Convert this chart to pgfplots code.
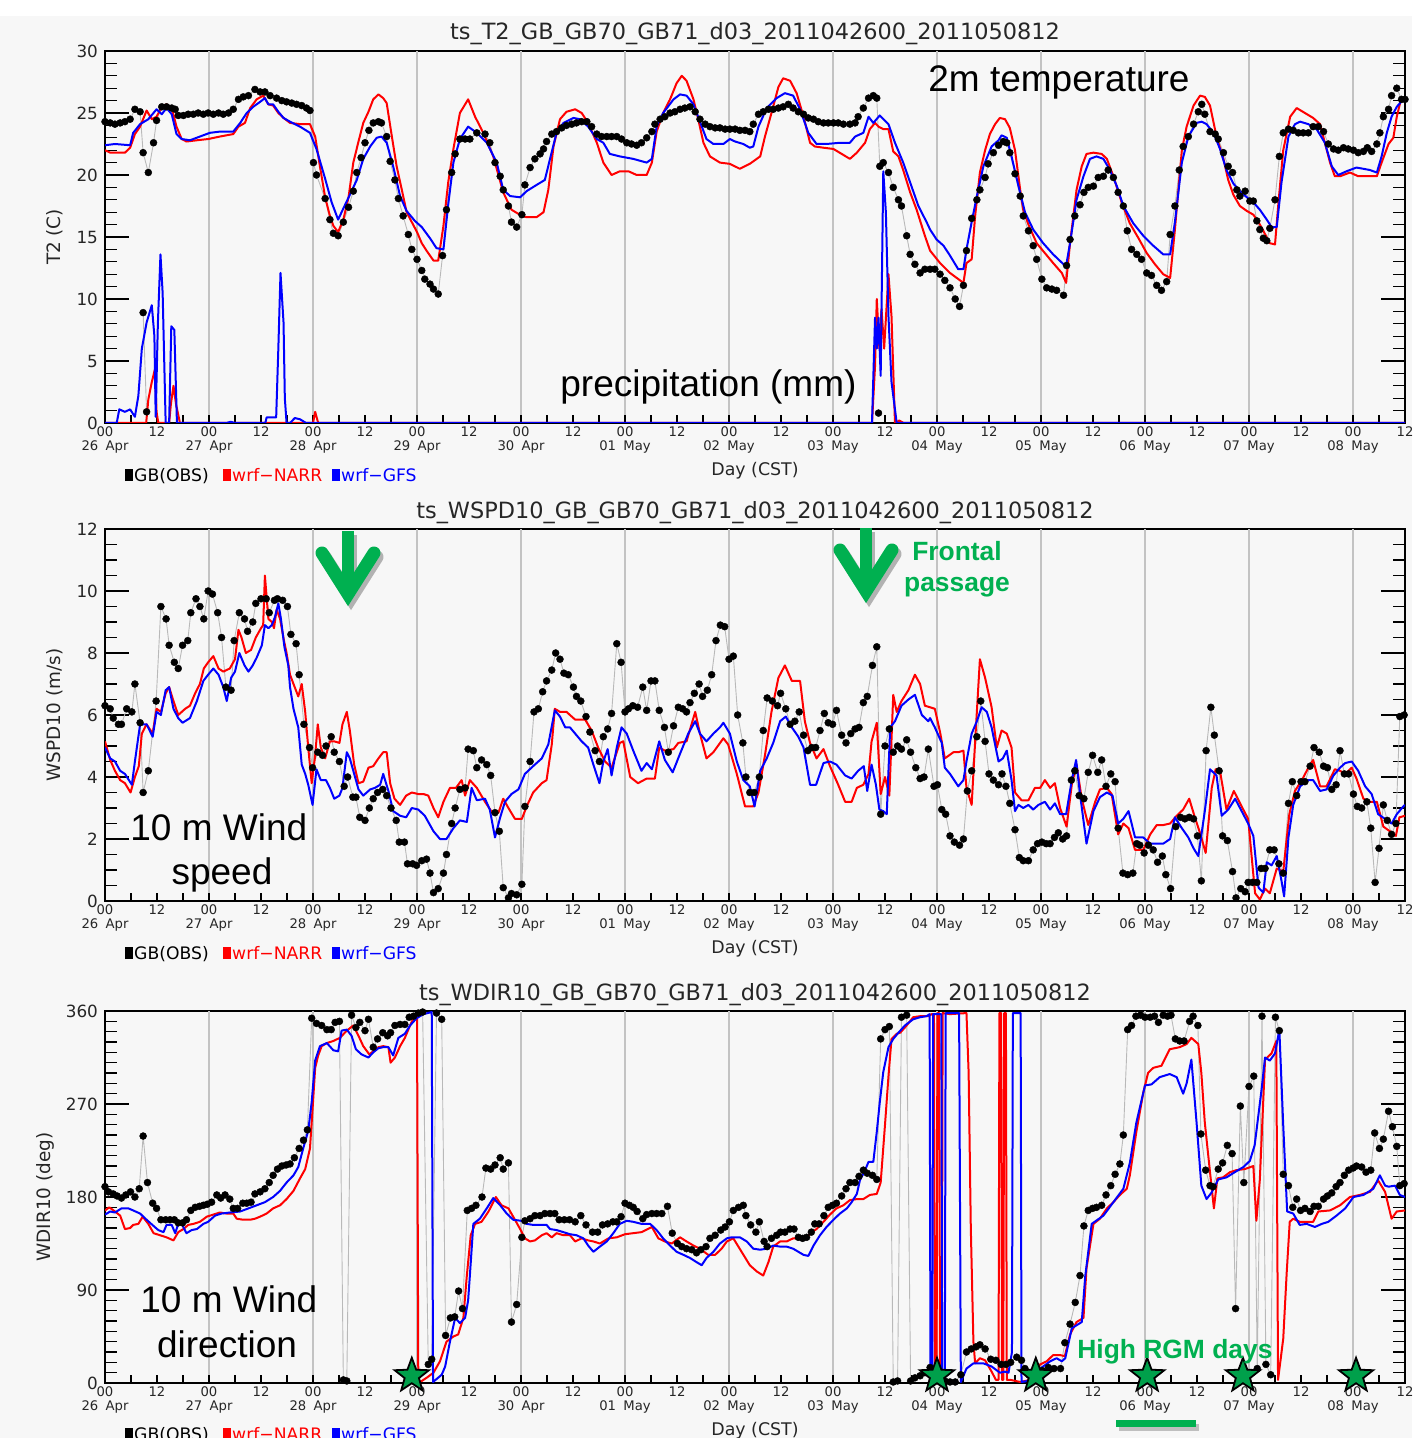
\documentclass[border=0pt]{standalone}
\usepackage{pgfplots}
\pgfplotsset{compat=1.18}
\usepackage{fontspec}
\setmainfont{DejaVu Sans}
\newfontfamily\arial{Liberation Sans}
\usetikzlibrary{shapes.geometric}
\definecolor{bg}{RGB}{247,247,247}
\definecolor{agreen}{RGB}{0,176,80}
\definecolor{sgreen}{RGB}{0,160,75}
\definecolor{pred}{RGB}{255,0,0}
\definecolor{pblue}{RGB}{0,0,255}
\definecolor{obsline}{RGB}{185,185,185}
\definecolor{gridc}{RGB}{195,195,195}
\newcommand\dd[2]{00\\#1\hspace{0.55em}#2}
\newcommand\bigf{\arial\fontsize{18.5}{20}\selectfont}
\newcommand\grf{\arial\bfseries\fontsize{13.2}{14}\selectfont}
\newcommand\legf{\fontsize{8.6}{9}\selectfont}
\newcommand\titf{\fontsize{11.2}{12}\selectfont}
\pgfdeclareplotmark{rgmstar}{\node[star,star points=5,star point ratio=2.4,minimum size=18pt,inner sep=0pt,fill=sgreen,draw=black,line width=0.9pt]{};}
\pgfplotsset{
  panel/.style={
    width=650pt, height=186pt, scale only axis, anchor=north west,
    xmin=0, xmax=300,
    xtick={0,12,...,300}, minor x tick num=1,
    xticklabels={{\dd{26}{Apr}},12,{\dd{27}{Apr}},12,{\dd{28}{Apr}},12,{\dd{29}{Apr}},12,{\dd{30}{Apr}},12,{\dd{01}{May}},12,{\dd{02}{May}},12,{\dd{03}{May}},12,{\dd{04}{May}},12,{\dd{05}{May}},12,{\dd{06}{May}},12,{\dd{07}{May}},12,{\dd{08}{May}},12},
    xtick pos=left, ytick pos=both, yticklabel pos=left,
    tick align=inside,
    major tick length=12pt, minor tick length=6pt,
    every major x tick/.append style={/pgfplots/major tick length=4pt},
    every minor x tick/.append style={/pgfplots/minor tick length=4pt},
    extra x ticks={24,48,...,288}, extra x tick labels={},
    extra x tick style={grid=major, major grid style={gridc, line width=0.6pt}, major tick length=0pt},
    axis line style={black, line width=0.9pt},
    tick style={black, line width=0.6pt},
    /pgf/number format/assume math mode=true,
    xticklabel style={font=\fontsize{6.6}{7.2}\selectfont, align=center, text=black!85, inner sep=1.5pt},
    yticklabel style={font=\fontsize{8.4}{9}\selectfont, text=black!85},
    xlabel={Day (CST)},
    xlabel style={at={(axis description cs:0.5,-0.1398)}, anchor=base, font=\fontsize{8.7}{9}\selectfont, text=black!85},
    ylabel style={at={(axis description cs:-0.0385,0.5)}, anchor=center, font=\fontsize{9.2}{10}\selectfont, text=black!85},
    clip=true,
  },
  obs/.style={color=obsline, line width=0.45pt, mark=*, mark size=1.75pt, mark options={draw=black, fill=black, line width=0.2pt}},
  nr/.style={color=pred, line width=1pt, no markers, line join=round},
  gf/.style={color=pblue, line width=1pt, no markers, line join=round},
}
\begin{document}
\begin{tikzpicture}
\path[use as bounding box] (0,0) rectangle (706pt,-719pt);
\fill[bg] (0,0) rectangle (706pt,-719pt);
\fill[white] (0,0) rectangle (706pt,-8pt);

% ---------------- Panel 1: T2 + precipitation
\begin{axis}[panel, at={(52.5pt,-25.5pt)}, ymin=0, ymax=30, ytick={0,5,...,30}, minor y tick num=4, ylabel={T2 (C)}]
\addplot[obs] coordinates {(0,24.3)(1.2,24.2)(2.3,24.1)(3.5,24.2)(4.6,24.3)(5.8,24.5)(6.9,25.3)(8.1,25.1)(8.8,21.8)(10,20.2)(11.2,22.6)(11.9,24.4)(13.1,25.5)(14.2,25.5)(15.4,25.4)(16.2,25.3)(16.9,24.8)(18.1,24.8)(19.2,24.9)(20.4,24.9)(21.5,25)(22.7,24.9)(23.8,25)(25,24.9)(26.2,25)(27.3,24.9)(28.5,25)(29.6,25.3)(30.8,26.1)(31.9,26.3)(33.1,26.4)(34.6,26.9)(35.8,26.7)(36.9,26.7)(38.1,26.4)(39.6,26.2)(40.8,26)(41.9,25.9)(43.1,25.8)(44.2,25.7)(45.4,25.6)(46.5,25.4)(47.3,25.2)(48.1,21)(48.8,20)(50.8,18.1)(51.9,16.4)(52.7,15.3)(53.8,15.1)(55,16.2)(56.2,17.4)(57.3,18.7)(58.1,20.2)(59.1,21.4)(60,22.6)(60.9,23.6)(61.9,24.2)(63.1,24.3)(63.8,24.2)(65,23.1)(65.8,21.1)(66.9,19.6)(67.7,18.1)(68.8,16.7)(70,15.2)(70.8,14)(72,13.2)(73.1,12.3)(73.8,11.6)(75,11.2)(75.8,10.8)(76.9,10.4)(77.9,13.5)(78.8,17.2)(80,20.2)(80.8,21.7)(81.9,22.9)(83.1,22.9)(84.2,22.9)(85.8,23.4)(87.7,23.3)(88.8,22.6)(90,21)(91.2,19.9)(91.9,18.8)(93.1,17.5)(93.8,16.2)(95,15.8)(96.2,16.8)(96.9,19.2)(98.1,20.6)(99.2,21.3)(100.4,21.7)(101.2,22.1)(101.9,22.7)(103.1,23.3)(104.2,23.5)(105.4,23.8)(106.5,24)(107.7,24.1)(108.8,24.2)(110,24.3)(111.2,24.3)(112.3,23.9)(113.5,23.3)(114.6,23.1)(115.8,23.1)(116.9,23.1)(118.1,23.1)(119.2,22.9)(120.4,22.6)(121.5,22.5)(122.7,22.4)(123.8,22.6)(125,23)(126.2,23.5)(126.9,24.1)(128.1,24.5)(129.2,24.7)(130.4,25)(131.5,25.1)(132.7,25.3)(133.8,25.4)(135,25.5)(136.2,25.1)(137.3,24.5)(138.5,24.1)(139.6,23.9)(140.8,23.8)(141.9,23.8)(143.1,23.7)(144.2,23.7)(145.4,23.7)(146.5,23.6)(147.7,23.6)(148.8,23.5)(149.6,24.1)(150.8,24.9)(151.9,25.1)(153.1,25.3)(154.2,25.3)(155.4,25.4)(156.5,25.5)(157.7,25.7)(158.8,25.4)(160,25.1)(161.2,24.9)(162.3,24.6)(163.5,24.5)(164.6,24.3)(165.8,24.2)(166.9,24.2)(168.1,24.2)(169.2,24.2)(170.4,24.1)(171.9,24.1)(173.1,24.2)(173.8,24.7)(175,25.4)(176.2,26.2)(177.3,26.4)(178.1,26.2)(178.8,20.7)(179.6,21)(180.8,20.2)(181.9,19)(183.1,18)(183.8,17.5)(185,15.1)(185.8,13.6)(186.9,12.8)(188.1,12.1)(189.2,12.4)(190.4,12.4)(191.5,12.4)(192.7,12)(193.8,11.5)(195,10.9)(196.2,10)(197.2,9.4)(198.1,11.1)(198.8,13.9)(200,16.5)(201.2,18)(201.9,18.8)(203.1,19.8)(203.8,20.9)(205,21.8)(206.2,22.4)(207.3,22.7)(208.1,22.6)(208.8,21.8)(210,20.1)(211.2,18.3)(211.9,16.7)(213.1,15.5)(214.2,14.3)(215,13.2)(216.2,11.6)(217.3,10.9)(218.5,10.8)(219.6,10.7)(221.2,10.3)(221.9,12.7)(222.7,14.8)(223.8,16.7)(225,17.6)(225.9,18.6)(226.9,19)(228.1,19.1)(229.2,19.8)(230.4,19.9)(231.5,20.4)(232.7,19.8)(233.8,18.6)(235,17.5)(235.9,15.5)(236.9,14)(238.1,13.6)(239.2,13.2)(240.4,12.1)(241.5,11.9)(242.7,11.1)(243.8,10.7)(245,11.4)(245.8,15.2)(246.9,17.5)(247.9,20.4)(248.8,22.3)(250,23.1)(251.2,24.1)(252.3,25.1)(253.1,25.7)(253.8,24.9)(255,23.5)(256.2,23.3)(256.9,22.9)(258.1,21.8)(259.2,20.7)(260.2,20.2)(261.2,18.8)(261.9,18.3)(263.1,18.7)(264.2,17.9)(265,17.9)(265.8,16.3)(266.5,15.6)(267.3,14.9)(268.1,14.7)(268.8,15.7)(270,18)(271,21.5)(271.9,23.4)(273.1,23.7)(274.2,23.6)(275.4,23.4)(276.5,23.4)(277.7,23.4)(278.8,23.9)(280,23.9)(281.2,23.5)(282.3,22.5)(283.5,22.1)(284.6,22)(285.8,22.2)(286.9,22.1)(288.1,22)(289.2,21.8)(290.4,21.9)(291.3,22.2)(292.3,21.9)(293.5,22.5)(294.2,23.4)(295,24.7)(296.2,25.3)(296.9,26.4)(298.1,27)(299.2,26.1)(300,26.1)};
\addplot[nr] coordinates {(0,22)(1.2,21.8)(4.6,21.8)(5.8,22.2)(6.9,23.3)(8.1,23.9)(9.6,25.2)(10.8,24.5)(11.9,24.7)(13.1,25.5)(14.2,25.7)(15.4,25.4)(16.5,23.9)(17.7,22.9)(18.8,22.7)(21.2,22.8)(23.8,22.9)(26.5,23.1)(29.6,23.3)(30.8,23.9)(32.3,24.2)(33.5,25.4)(35,26.1)(36.5,26.4)(37.7,25.7)(38.8,25.6)(40,25)(41.2,24.6)(42.7,24.2)(45,24.1)(47.3,24.1)(48.5,23.1)(49.6,20.7)(50.8,18.2)(51.9,16.7)(52.7,15.9)(53.8,15.4)(55,16.4)(56.2,18.2)(57.3,21)(58.5,22.7)(59.6,24.2)(60.8,25.1)(61.9,26.1)(63.1,26.5)(64.2,26.2)(65,25.8)(66.2,23.1)(67.3,20.7)(68.5,18.8)(69.6,17)(70.8,16.2)(72,15.4)(73.1,14.5)(74.2,13.9)(75.8,13.1)(76.9,13.1)(78.1,15.9)(79.2,19.4)(80.4,22.1)(81.9,25)(83.8,26.1)(85.4,24.7)(87.3,23.4)(89.6,21.5)(91.9,18.6)(93.8,17.2)(96.2,16.7)(97.3,16.6)(99.6,16.6)(101.2,17)(102.3,18.8)(103.5,22.3)(105,24.5)(106.5,25.1)(108.5,25.3)(110,25)(111.5,24.2)(113.5,22.6)(115,21)(116.9,20)(118.8,20.3)(120.8,20.3)(122.7,20)(125,20)(126.2,21)(127.3,23.5)(128.8,25)(130.4,26.1)(131.9,27.4)(133.1,28)(134.2,27.6)(135.8,26.1)(136.9,24.5)(138.1,22.6)(139.6,21.5)(141.9,21)(144.2,20.9)(146.5,20.5)(148.8,20.9)(151.2,21.5)(152.3,23.1)(153.8,25)(155.4,27.1)(156.5,27.8)(158.1,27.6)(159.6,26.6)(161.2,24.7)(162.7,22.6)(163.8,22.3)(165.8,22.2)(168.1,22.1)(170,21.7)(171.9,21.3)(173.5,21.8)(175.4,22.6)(176.5,23.7)(177.7,24.2)(178.5,23.9)(179.6,23.7)(180.8,23.7)(181.9,21.9)(183.1,21.5)(184.2,20.4)(185.8,18.6)(187.3,17.2)(189.2,15.1)(190.4,13.9)(192.7,12.9)(195,12.1)(198.1,11.3)(198.8,12.9)(200,13.2)(200.8,16.7)(201.9,20.2)(203.1,22)(204.2,23.3)(205.4,24.1)(206.5,24.6)(207.7,24.5)(208.8,23.8)(210,22)(211.2,18.8)(211.9,17.2)(213.1,16)(215,14.5)(216.9,13.7)(218.8,12.9)(220.8,12.1)(221.8,11.3)(222.7,14.5)(224.2,18.8)(225.4,20.7)(226.5,21.7)(228.1,21.8)(230,21.7)(231.2,21.3)(232.7,19.9)(234.6,17.8)(236.5,16.1)(238.5,14.9)(240.4,13.7)(242.3,12.8)(244.2,12)(245.8,11.7)(246.9,15.6)(248.5,22)(249.6,23.9)(251.2,25.6)(252.7,26.4)(253.8,26.3)(255,25.6)(256.5,23.1)(258.1,21.3)(259.2,19.6)(260.4,18.4)(261.9,17.5)(263.5,17.1)(265,16.8)(266.2,16.2)(267.3,15.5)(268.8,14.5)(270,14.4)(270.8,17.8)(271.9,22)(273.5,24.7)(275,25.4)(276.9,25)(278.8,24.6)(280.4,24.1)(281.5,22.6)(282.7,21)(283.8,19.9)(285,19.9)(287.3,20.2)(289.2,19.9)(291.2,19.9)(293.5,19.9)(294.6,21)(296.2,22.5)(297.3,23)(298.1,24.7)(299,26)(300,26.1)};
\addplot[gf] coordinates {(0,22.4)(2.3,22.5)(5.8,22.4)(6.5,23.4)(8.1,24.1)(10,24.5)(11.9,25.3)(13.1,24.9)(14.2,25.4)(15.4,24.9)(16.5,23.3)(17.7,22.9)(19.6,22.8)(21.9,23.1)(24.2,23.4)(26.5,23.5)(29.6,23.5)(31.2,24.2)(32.7,25)(34.2,25.5)(35.8,25.9)(36.9,26.2)(37.7,25.7)(38.8,25.7)(40,25.1)(41.2,24.6)(42.7,24.3)(45,23.9)(47.3,23.4)(48.8,22.1)(50.8,19.7)(52.3,17.8)(53.8,16.4)(55,17.3)(56.5,18.4)(58.1,19.6)(59.6,21.3)(61.2,22.3)(62.7,23)(63.8,23.1)(65,22.6)(66.5,20.7)(68.1,18.3)(69.6,17.1)(71.5,16.3)(73.1,15.8)(75,14.9)(76.5,14.1)(78.1,14)(79.2,17.6)(80.4,21)(81.9,22.9)(83.8,23.9)(85.8,23.4)(88.1,22.6)(90.4,21)(91.9,18.8)(93.5,18.3)(95.8,18.2)(97.3,18.7)(99.6,19.2)(101.5,19.6)(102.7,21.3)(104.2,23.4)(105.8,24.2)(108.1,24.6)(109.6,24.5)(111.5,23.9)(113.5,22.9)(115,22.6)(116.5,21.7)(118.8,21.5)(121.9,21.3)(125,21)(126.2,21.3)(127.3,23.9)(128.8,25)(131.2,26.1)(132.7,26.5)(134.2,26.4)(135.8,25.7)(137.3,24.3)(138.8,22.9)(140.4,22.5)(142.7,22.5)(144.2,22.9)(145.4,22.7)(147.3,22.5)(148.8,22.2)(149.6,22.3)(150.8,23.9)(152.7,25.4)(155,26.2)(156.9,26.6)(158.8,26.4)(160.4,25.3)(162.3,23.4)(164.2,22.5)(166.5,22.5)(169.6,22.6)(171.9,22.6)(173.1,23.1)(175,23.4)(176.2,24.7)(177.3,24.2)(178.8,24.8)(180.8,24.1)(182.3,22.6)(184.2,21)(185.8,19.4)(187.7,17.5)(189.6,16.2)(190.4,15.6)(191.9,14.8)(193.5,14.3)(195,13.5)(196.9,12.4)(198.1,12.4)(198.8,14)(200,16.2)(201.2,18.3)(202.7,20.7)(204.6,22.3)(206.2,22.8)(206.9,23.2)(208.1,23)(209.2,21.5)(210.8,19.1)(212.3,17)(214.2,15.6)(216.5,14.5)(218.8,13.6)(221.2,12.8)(221.9,12.9)(222.7,14.5)(224.2,18)(225.8,19.9)(227.3,21.3)(228.8,21.5)(230.4,21.3)(231.9,20.4)(233.5,19.1)(235,17.5)(237.3,16.1)(239.6,15.1)(241.9,14.3)(244.2,13.6)(245.8,13.6)(246.9,16.2)(248.5,21)(250,23.1)(251.9,24.2)(253.1,24.3)(254.2,24.1)(255.8,23.4)(257.3,22.1)(258.8,20.4)(260.4,19.3)(261.9,18.7)(263.5,18.2)(265,17.8)(266.5,17.2)(268.1,16.4)(269.2,15.8)(270.4,15.8)(271.5,19.4)(273.1,23.1)(274.6,24.1)(275.8,24.3)(277.7,24.1)(279.6,23.7)(281.5,22.6)(283.1,20.7)(284.6,20)(286.5,20.3)(288.8,20.6)(290.4,20.5)(291.9,20.4)(293.5,20.2)(294.6,21.5)(295.8,23.4)(296.9,24.7)(298.1,25.5)(299.6,26.1)(300,26.1)};
\addplot[obs] coordinates {(8.8,8.9)(9.6,0.9)};
\addplot[obs] coordinates {(178.5,0.8)};
\addplot[nr] coordinates {(0,0)(9.5,0)(10,1.9)(10.8,3.3)(11.5,4.3)(11.9,0.9)(12.3,0)(14.8,0)(15.2,1.5)(15.8,3)(16.4,1.5)(17.3,0)(48,0)(48.5,0.9)(49.2,0)(177,0)(177.7,4.6)(178.1,10)(178.7,6)(179.2,9.2)(179.8,6)(180.8,12)(181.5,8.6)(182.3,0)(183.3,0.2)(184.3,0)(300,0)};
\addplot[gf] coordinates {(0,0)(2.7,0)(3.3,1.1)(4.6,0.9)(5.8,1.1)(6.9,0.5)(7.7,2.2)(8.5,6)(9.6,8.1)(10.8,9.5)(11.4,7)(11.7,0.5)(12.2,8)(12.8,13.6)(13.3,10.5)(14,0)(14.8,0)(15.3,7.8)(16,7.5)(16.6,0)(28,0)(29,0.1)(30,0)(37,0)(37.3,0.45)(39.5,0.45)(40,6)(40.5,12.1)(41.2,8.1)(41.5,2)(41.9,0)(42.7,0)(43.8,0.4)(45,0.3)(46.4,0)(177,0)(177.7,8.5)(178.1,6)(178.5,8.5)(179,3.8)(179.6,20.3)(180.2,17)(180.8,8.6)(181.5,3.3)(182.7,0)(300,0)};
\end{axis}

% ---------------- Panel 2: wind speed
\begin{axis}[panel, at={(52.5pt,-264.5pt)}, ymin=0, ymax=12, ytick={0,2,...,12}, minor y tick num=3, ylabel={WSPD10 (m/s)}]
\addplot[obs] coordinates {(0,6.3)(1.2,6.2)(1.9,5.9)(3.1,5.7)(3.8,5.7)(5,6.2)(6.2,6.1)(6.9,7)(8.1,5.75)(8.8,3.5)(10,4.2)(11.8,6.45)(12.9,9.5)(14.1,9.1)(14.8,8.25)(16,7.7)(16.9,7.5)(17.9,8.25)(19.1,8.4)(19.8,9.3)(21,9.75)(21.9,9.5)(22.8,9.1)(23.8,10)(24.8,9.9)(26,9.3)(26.9,8.5)(27.9,6.9)(29.1,6.8)(29.8,8.4)(31,9.3)(32.2,9.1)(32.9,8.7)(34.1,9)(34.8,9.6)(36,9.75)(37.2,9.75)(37.9,9.3)(39.1,9.7)(39.8,9.75)(41,9.7)(42.1,9.5)(42.9,8.6)(44.1,8.3)(44.8,7.3)(45.9,5.7)(47.2,4.95)(47.9,4.3)(49.1,4.8)(50.2,4.7)(51,5)(52.2,5.3)(52.9,4.8)(54.1,4.5)(55.2,3.7)(56,4)(57.2,3.35)(57.9,3.35)(58.8,2.7)(60,2.6)(61,3)(61.9,3.3)(62.9,3.5)(64.1,3.6)(65,3.4)(66,3)(67.2,2.6)(67.9,1.9)(69.1,1.9)(69.8,1.2)(71,1.2)(71.9,1.15)(73.1,1.3)(74.2,1.35)(75,0.9)(75.8,0.27)(76.9,0.4)(78.1,0.9)(78.8,1.5)(80,2.5)(80.8,3)(81.9,3.6)(83.1,3.65)(83.8,4.9)(85,4.85)(85.8,4.3)(86.9,4.55)(88.1,4.4)(89,4.05)(90,2.85)(91,2.25)(91.9,0.43)(93.1,0.1)(93.8,0.24)(95,0.2)(96.2,0.54)(96.9,3.05)(98.1,4.5)(99,6.1)(100,6.2)(101,6.75)(101.9,7.1)(103.1,7.45)(104,8)(105,7.8)(105.9,7.35)(106.9,7.3)(108.1,6.9)(108.8,6.6)(109.8,6.45)(111,5.95)(111.9,5.45)(113.1,4.85)(114.1,4.5)(115,5.3)(116,5.55)(116.9,6.05)(118.1,8.3)(119.1,7.7)(120,6.1)(120.8,6.2)(121.8,6.3)(122.9,6.25)(124.1,6.9)(125,6.15)(126,7.1)(126.9,7.1)(127.9,6.15)(129.1,5.6)(130,4.8)(131.2,5.65)(132.3,6.25)(133.3,6.2)(134.2,6.1)(135,6.4)(136,6.7)(137.1,7)(137.9,6.6)(139,6.8)(140,7.3)(141,8.4)(142,8.9)(143,8.85)(144,7.8)(145,7.9)(146,6)(147.2,5.1)(147.9,4)(148.8,3.5)(149.8,3.5)(151,4)(151.9,5.5)(152.8,6.55)(154,6.45)(155.2,6.3)(155.9,6.7)(157.1,6.2)(158.1,5.7)(159.2,5.8)(160.2,6.1)(161.2,5.35)(162.2,4.85)(163.1,4.95)(164,4.95)(165,5.5)(166,6.05)(166.9,5.75)(167.9,5.7)(168.8,6.15)(170,5.35)(171,5.1)(172.1,5.4)(173.1,5.55)(174,5.6)(175,6.4)(175.9,6.6)(177.1,7.6)(178.1,8.2)(179,2.8)(180,5)(181,5.55)(181.9,4.8)(182.9,5)(183.8,4.9)(185,5.2)(185.9,4.8)(187.1,4.3)(188.1,3.95)(189,4)(190,4.9)(191.3,3.7)(192.1,3.75)(193.1,2.95)(194,2.8)(195,2.1)(196,1.9)(197.2,1.8)(198.1,2)(199,3.55)(200,4.2)(201.2,5.3)(202.1,6.45)(203.1,5.15)(204,4.1)(205,3.9)(206.2,3.75)(207,4.1)(207.9,3.7)(208.8,3.15)(210,2.3)(211,1.4)(211.9,1.3)(213.1,1.3)(214.2,1.65)(215.2,1.85)(216.2,1.9)(217.2,1.85)(218.1,1.85)(219.1,2.05)(220,2.2)(221,2)(221.9,2.1)(223,3.9)(223.8,4.2)(224.8,3.4)(225.9,3.3)(226.9,4.15)(227.9,4.7)(229.1,4.15)(230,4.55)(231,3.7)(232.1,4.1)(233.1,3.85)(233.8,2.35)(234.9,0.9)(236,0.85)(237.2,0.9)(238.1,1.85)(238.8,1.8)(239.8,1.55)(240.8,1.8)(241.9,1.65)(242.9,1.25)(244,1.45)(244.8,0.85)(245.9,0.4)(247.1,2.4)(248.2,2.7)(249.2,2.65)(250.2,2.7)(251.2,2.65)(252.1,2.1)(253,0.65)(254.1,4.85)(255.2,6.25)(256,5.35)(257.1,4.2)(257.9,2.1)(259,1.95)(260.2,0.95)(261,0.1)(262.1,0.4)(263.1,0.3)(263.8,0.6)(264.8,0.6)(265.8,0.6)(266.8,1.05)(267.7,1.05)(268.8,1.65)(269.8,1.65)(270.9,1.2)(271.9,0.9)(273.1,3.15)(274,3.85)(275,3.4)(276,3.85)(276.9,3.85)(278.1,4.35)(279,4.95)(280.2,4.8)(281.2,4.35)(282.1,4.3)(283.1,3.6)(284.1,3.75)(285,4.85)(286,4.1)(287,4.1)(288.1,3.45)(289,3.05)(290,3)(291.2,3.2)(292.1,2.35)(293.1,0.6)(294,1.7)(295,3.1)(295.9,2.6)(296.9,2.15)(297.9,2.5)(298.8,5.95)(299.8,6)};
\addplot[nr] coordinates {(0,5.15)(1.2,4.55)(2.3,4.2)(3.5,3.9)(4.6,3.8)(5.9,3.5)(6.9,4)(7.8,4.35)(8.5,5.4)(9.6,5.7)(11,5.4)(11.9,6.2)(12.9,6.1)(14,6.7)(14.8,6.9)(15.8,6.45)(16.9,6)(18.5,6.2)(19.6,6.3)(20.8,6.7)(21.9,7)(22.8,7.5)(23.8,7.7)(25,7.9)(26.2,7.5)(27.3,7.4)(28.8,7.5)(30,7.8)(30.8,8.75)(31.5,8.5)(32.5,8)(33.7,8.1)(34.8,8.5)(36,8.8)(36.5,8.9)(36.9,10.5)(37.7,9.1)(38.5,9)(39,8.8)(39.6,9.4)(40.4,9.1)(41.3,8.4)(41.9,8)(42.7,7.3)(43.5,7)(44.6,6.6)(45.4,7)(46.2,6.1)(46.9,4.95)(47.7,3.8)(48.5,4.7)(49.1,5.7)(49.8,4.95)(50.8,4.6)(51.9,5.15)(52.9,5.15)(54.1,5.1)(54.8,5.7)(55.8,6.1)(56.5,5.5)(57.5,4.4)(58.5,3.8)(59.6,3.85)(60.8,4.3)(61.9,4.35)(63.1,4.6)(64.2,4.8)(65,4.8)(65.8,3.8)(66.8,3.3)(68.1,3.1)(69.5,3.4)(70.8,3.5)(72.3,3.45)(73.5,3.45)(74.6,3.4)(75.8,3)(76.9,2.7)(78.1,3.2)(79.6,3.65)(81,3.65)(82.3,3.9)(83.1,3.4)(84.2,3.9)(85.8,3.65)(87.7,3.2)(89.6,2.8)(90.8,2.85)(91.9,3.3)(93.1,3)(94.6,2.65)(96.2,2.65)(97.3,3.05)(98.8,3.5)(100.8,3.8)(101.9,3.9)(103.1,5.05)(103.8,6.2)(105,6.1)(106.5,6.1)(108.5,5.85)(110.8,5.85)(112.3,5.5)(113.8,4.95)(115.4,4.5)(116.9,4.3)(118.8,5.1)(119.6,5.15)(121.2,4)(123,3.8)(125,3.95)(126.9,3.95)(127.9,4.95)(129.2,4.85)(131.2,4.9)(132.3,5.1)(134.2,5.15)(136.2,6.1)(137.3,5.4)(138.8,4.6)(140.4,4.8)(142.7,5.25)(143.8,5.05)(145.8,4.1)(147.7,3.05)(149.6,3.05)(150.8,3.5)(152.3,4.7)(153.8,6.1)(155.4,7.2)(156.9,7.6)(158.5,7.1)(160.4,7.1)(161.5,5.8)(162.7,5.1)(164.2,4.6)(165.8,4.9)(167.3,4.35)(169.2,3.75)(170.8,3.2)(172.3,3.2)(173.5,3.65)(175,3.75)(176.2,4.1)(176.9,5.15)(178.1,5.75)(179,3.45)(180,4)(181,3.4)(181.9,6.65)(182.7,6.1)(183.8,6.45)(185.4,6.8)(186.9,7.3)(188.1,7)(189.2,6.3)(190.4,6.25)(191.5,6.2)(192.7,5.45)(193.8,4.6)(195.8,4.8)(196.9,4.8)(198.1,4.85)(198.8,3.65)(200,3.1)(200.8,5.15)(201.9,7.8)(203.1,7.2)(204.6,6.25)(205.8,4.95)(206.9,5.5)(208.1,5.4)(209.2,4.95)(210,3.5)(211.5,3.25)(213.1,3.25)(214.6,3.65)(215.8,3.65)(216.9,3.9)(218.1,3.65)(219.2,3.8)(220.4,3)(221.9,2.4)(223.1,3.75)(224.2,4.4)(225.4,3.3)(226.9,2.45)(228.5,3.2)(229.6,3.6)(231.2,3.65)(232.3,3.45)(233.8,2.15)(235,2.5)(236.2,2.35)(237.7,1.65)(239.6,1.65)(241.2,2.15)(242.7,2.45)(244.2,2.45)(245.8,2.5)(247.3,2.75)(248.8,2.95)(250.2,3.3)(251.5,2.7)(252.8,2.15)(254,1.55)(255.4,3.65)(256.3,4.25)(257.3,4.2)(258.8,2.95)(260.5,3.55)(262.3,3.05)(263.8,2.65)(265.4,0.25)(266.5,0.05)(267.7,0.4)(268.8,0.25)(270.4,1.05)(271.9,0.95)(273.3,2.8)(274.6,3.55)(276.2,3.9)(277.7,4.3)(278.8,4.55)(280.4,3.7)(281.9,3.7)(283.8,4.25)(285,4.2)(286.2,4.1)(287.7,4.3)(288.8,3.95)(290.4,3.3)(291.9,3.2)(293.5,3.2)(295,2.4)(296.5,2.25)(297.9,2.1)(298.7,2.7)(300,2.75)};
\addplot[gf] coordinates {(0,4.95)(1.2,4.6)(2.3,4.5)(3.5,4.2)(4.6,4.1)(6.2,3.75)(6.9,4.5)(8.1,5.7)(9.6,5.7)(11,5.3)(11.9,6.1)(12.9,6)(14,6.8)(14.8,6.9)(15.8,6.2)(16.9,5.9)(17.9,5.75)(19.6,5.9)(21.2,6.45)(22.7,7.1)(23.8,7.3)(25,7.5)(26.2,7.3)(27.3,6.9)(28.1,6.45)(29.1,7.2)(30,7.4)(31,8)(32.2,7.6)(33.1,7.4)(34.1,7.6)(35,7.85)(36.2,8.25)(36.9,8.9)(37.7,8.8)(38.5,8.9)(39.2,9.15)(40,9.6)(40.6,9.1)(41.4,8.2)(42.3,7.6)(42.7,6.9)(43.5,6.2)(44.6,5.6)(45.4,4.4)(46.2,4.1)(46.9,3.75)(47.9,3.1)(48.8,4.25)(49.8,3.9)(51,3.9)(51.9,3.65)(52.9,3.3)(54.1,3.4)(54.8,3.65)(55.8,4.8)(56.5,4.6)(57.5,4.1)(58.5,3.6)(59.6,3.4)(61.2,3.6)(62.3,3.65)(63.5,3.75)(64.2,4.1)(65.4,3.55)(66.5,2.9)(68.1,2.75)(69.5,2.7)(70.8,3)(72.3,2.95)(73.8,2.75)(75.8,2.25)(77.3,2)(78.8,2)(80.4,2.35)(81.9,2.6)(83.5,2.55)(84.6,3.65)(85.8,3.25)(87.7,3.3)(88.8,2.95)(90,2.05)(91.2,2.7)(92.3,3.2)(93.8,3.45)(95.4,3.6)(96.9,4.1)(98.8,4.35)(100.8,4.6)(102.3,5.05)(103.8,6.15)(105,5.95)(106.2,5.6)(107.3,5.6)(108.5,5.4)(110,5.15)(111.5,4.95)(112.7,4.4)(114.1,3.8)(115,4.5)(116,4.9)(116.9,4.05)(118.1,4.95)(119.2,5.6)(120.4,5.4)(121.9,4.85)(123.8,4.2)(125,4.45)(126.2,4.25)(127.9,5.15)(129.2,4.55)(131,4.15)(132.7,4.75)(134.6,5.4)(136.2,5.8)(137.3,5.4)(138.8,5.15)(140.4,5.4)(141.9,5.6)(142.7,5.75)(144.2,5.4)(145.8,4.5)(147.3,3.9)(148.8,3.7)(149.9,3.05)(151.2,4.2)(152.7,4.6)(154.2,5.1)(155.8,5.8)(157.1,5.95)(158.5,5.6)(160,5.3)(161.2,4.95)(162.7,3.75)(164.1,3.75)(165.8,4.45)(167.3,4.5)(168.8,4.4)(170.8,4.05)(172.3,3.95)(173.8,4.2)(175.1,4.35)(175.9,3.55)(176.9,4.4)(177.9,3.75)(178.7,2.95)(179.6,2.9)(180.4,2.8)(181.2,5.6)(182.3,5.8)(183.8,6.3)(185.4,6.5)(186.9,6.65)(188.5,6)(190,5.8)(190.4,5.9)(191.5,5.6)(193.1,5.1)(193.8,4.3)(195,4.1)(196.9,3.7)(198.1,3.9)(198.8,4.5)(200,5.4)(201.2,5.8)(202.3,6.25)(203.5,6.1)(204.6,5.6)(206.2,4.5)(207.2,4.6)(208.1,4.85)(209.2,3.9)(210,2.9)(210.8,3.1)(211.9,3)(213.1,3.1)(214.2,2.95)(215.4,3.1)(216.9,3.2)(218.1,2.95)(219.2,3.15)(220.4,2.8)(221.8,2.8)(223.1,3.9)(224.1,4.55)(225,3.45)(226.5,1.85)(228.1,2.9)(229.6,3.35)(231.2,3.5)(232.5,3.4)(233.8,2.5)(235,2.65)(236.2,2.9)(237.7,2.05)(239.6,2.05)(241.2,1.85)(242.7,1.85)(244.2,1.85)(245.8,2)(246.9,2.7)(248.5,2.35)(250,2.05)(251.2,1.7)(252.3,1.45)(253.8,2.9)(255,4.25)(256.5,4.05)(257.7,2.75)(259.2,2.95)(260.8,3.3)(262.3,2.9)(263.8,2.5)(265,2.1)(266.2,0.43)(267.3,0.27)(268.1,1.25)(269.2,1.15)(270.4,1.45)(271.5,0.65)(272.1,0.15)(273.1,2.05)(274.2,3.1)(275.8,3.7)(277.7,3.9)(278.8,3.9)(280.4,3.55)(281.9,3.6)(283.5,4.05)(285,4.3)(286.2,4.45)(287.7,4.5)(289.2,4.2)(290.8,3.7)(292.3,3.45)(293.8,2.8)(295.4,2.65)(296.9,2.5)(298.1,2.8)(299.6,3.05)(300,3.1)};
\end{axis}

% ---------------- Panel 3: wind direction
\begin{axis}[panel, at={(52.5pt,-505.5pt)}, ymin=0, ymax=360, ytick={0,90,...,360}, minor y tick num=8, ylabel={WDIR10 (deg)},
  ylabel style={at={(axis description cs:-0.046,0.5)}}]
\addplot[obs] coordinates {(0,190)(0.8,185)(1.9,183)(2.8,181)(3.8,179)(4.8,182)(5.9,185)(6.9,180)(7.9,188)(8.8,239)(9.8,194)(11,174)(11.9,169)(12.9,158)(14,158)(15,158)(16,158)(16.9,155)(17.9,155)(18.8,158)(19.8,167)(20.8,170)(21.8,171)(22.7,172)(23.6,173)(24.6,175)(25.8,182)(26.7,179)(27.7,182)(28.8,178)(29.6,169)(30.6,169)(31.8,174)(32.7,174)(33.7,175)(34.6,183)(35.8,185)(36.9,188)(37.9,194)(38.8,201)(39.8,207)(40.8,210)(41.8,211)(42.7,212)(43.7,218)(44.8,227)(45.8,235)(46.7,245)(47.7,353)(48.8,348)(50,346)(51.2,342)(52.2,342)(53.1,349)(54.1,350)(55,3)(55.8,2)(56.9,356)(57.9,344)(58.8,349)(60,341)(60.8,352)(61.9,325)(62.9,333)(64.1,339)(65.2,336)(65.9,339)(66.9,346)(68.1,347)(69.2,347)(70.2,354)(71.2,355)(72.3,358)(73.3,359)(74.6,18)(75.4,23)(76.5,358)(77.7,352)(78.6,46)(79.7,63)(80.7,64)(81.6,89)(82.5,72)(83.6,167)(84.6,169)(85.6,172)(87,180)(87.9,208)(89,207)(90,211)(91.2,218)(91.9,207)(93.1,213)(93.8,59)(95,76)(96.2,141)(96.9,157)(98.1,159)(99.2,162)(100.4,162)(101.5,164)(102.7,164)(103.8,164)(104.8,158)(106,158)(107.2,158)(108.5,156)(109.8,162)(111,153)(112.5,146)(113.7,146)(114.8,153)(116,154)(117.2,156)(118.1,156)(119.1,161)(120,174)(121,172)(121.9,170)(122.8,166)(124.1,159)(125,163)(126.2,164)(127.3,164)(128.5,164)(129.8,171)(130.9,145)(132.1,135)(133.1,132)(134.2,130)(135.4,129)(136.5,126)(137.5,129)(138.7,132)(139.6,140)(140.8,143)(142.1,148)(143.1,151)(144.1,156)(145,167)(146.2,170)(147.3,172)(147.9,162)(149,153)(150.2,146)(151,156)(152.1,137)(152.8,132)(153.8,140)(155,143)(155.9,146)(156.9,146)(158.1,149)(159,149)(160,141)(161,140)(161.9,141)(163,146)(163.8,154)(164.8,154)(165.9,162)(166.9,170)(167.9,172)(168.8,174)(170,181)(171,188)(171.9,194)(173.1,194)(174,200)(175,206)(175.9,203)(177.1,201)(178.1,197)(179,333)(180,342)(181,345)(181.9,1)(182.9,2)(183.8,354)(185,356)(185.9,2)(186.9,5)(188.1,7)(189.2,10)(190.4,15)(191.5,8)(192.7,3)(193.8,2)(195,1)(196.2,1)(197.5,8)(198.8,30)(199.9,33)(201,35)(201.9,37)(203.1,33)(204.4,23)(205.6,22)(206.8,18)(207.9,18)(209,20)(210.4,25)(211.5,22)(212.3,14)(213.2,8)(214.5,6)(216.3,12)(217.7,15)(219,14)(220.5,14)(221.5,39)(222.7,57)(223.9,78)(225,104)(225.9,152)(226.9,167)(227.9,169)(228.8,170)(230,172)(231,182)(232.1,191)(233.1,202)(234.2,212)(235,240)(236,342)(236.9,346)(237.9,355)(239,356)(240,354)(241.2,354)(242.2,355)(243.1,349)(244.2,356)(245.2,355)(246,356)(247,333)(248,331)(249,331)(250.3,350)(251.1,355)(252.2,346)(252.9,241)(254,206)(255,191)(255.7,190)(256.9,207)(257.9,213)(259,230)(260.1,222)(260.9,72)(262,268)(262.8,194)(264,287)(265.1,297)(265.9,14)(267,355)(267.9,18)(269,8)(270.1,354)(271,341)(271.9,202)(273.1,191)(274.1,170)(275,178)(275.9,167)(276.9,169)(278.1,166)(279,171)(280,171)(281.2,178)(282.1,181)(283.1,184)(284.1,190)(285,194)(286,201)(287,206)(288,208)(288.8,210)(290,209)(291,204)(292.1,206)(293,242)(294.1,227)(295,236)(296.2,263)(297.1,248)(298.1,229)(298.8,191)(299.8,193)};
\addplot[nr] coordinates {(0,167)(1,170)(2.3,166)(3.5,162)(4.6,149)(5.8,150)(6.5,153)(7.7,154)(8.7,161)(10,154)(11.2,145)(12.7,143)(14.2,141)(15.8,138)(16.9,146)(18.1,149)(19.2,153)(20.4,154)(21.9,156)(23.5,161)(25,163)(26.5,165)(28.1,164)(29.6,164)(30.4,159)(31.9,158)(33.5,158)(34.6,159)(35.8,161)(37.3,164)(38.8,169)(40.4,172)(41.9,178)(43.5,186)(45,198)(46.2,207)(47.3,227)(47.9,265)(48.5,305)(49.2,317)(50,326)(51.2,329)(52.7,331)(54.2,334)(55.8,341)(57.3,346)(58.5,336)(59.6,326)(61,318)(61.9,321)(63.1,325)(64.2,326)(65.4,325)(65.9,310)(66.9,315)(68.1,326)(69.2,334)(70.4,346)(71.5,356)(72,358)(72.3,1)(73.1,2)(74.2,5)(75.8,10)(77.3,21)(78.8,40)(80.4,45)(81.5,47)(82.7,63)(83.5,104)(84.4,143)(85.4,154)(86.9,156)(88.5,166)(90.2,180)(91.5,172)(93.1,169)(94.6,158)(95.8,149)(96.9,140)(98.1,137)(99.2,138)(100.8,143)(101.9,145)(103.1,141)(104.2,145)(105.8,143)(107.3,143)(108.5,137)(110,140)(111.5,138)(112.7,137)(114.2,135)(116.2,140)(118.1,141)(120,144)(121.9,145)(123.8,146)(126.2,151)(127.7,140)(129.2,137)(130.8,135)(132.7,141)(134.2,137)(135.8,133)(137.3,130)(139.2,124)(140.8,124)(142.3,130)(143.5,137)(145,140)(146.9,127)(148.8,114)(150.4,108)(151.9,104)(153.1,117)(154.2,132)(155.8,137)(157.3,137)(158.8,140)(160.4,140)(161.9,141)(163.1,146)(164.2,149)(165.8,156)(167.3,163)(168.8,169)(170.4,172)(171.9,177)(173.5,178)(175,178)(176.5,182)(178.1,183)(179,194)(180,250)(180.8,297)(181.5,333)(182.7,338)(183.5,339)(185,346)(186.5,354)(188.1,355)(190,355)(190.8,357)(191.3,357)(191.5,1)(191.9,1)(192.1,358)(192.5,358)(192.7,1)(193.1,1)(193.3,358)(195,357)(198.8,358)(199.3,300)(199.8,150)(200.4,40)(200.8,19)(201.9,24)(203.1,22)(204.6,11)(205.6,3)(206.2,3)(206.4,358)(206.8,358)(207,3)(207.3,3)(207.5,358)(207.9,358)(208.1,3)(209,3)(211.2,1)(213.5,3)(215.8,18)(217.3,21)(218.8,27)(220.4,27)(221.5,26)(222.7,47)(224.2,59)(225.8,63)(226.5,111)(228.1,154)(229.6,159)(231.2,169)(232.7,175)(234.2,182)(235.8,188)(236.5,201)(238,243)(239.6,281)(240.7,300)(241.9,305)(243.8,307)(245.7,323)(248,325)(249.6,328)(250.7,334)(252.3,328)(253,300)(253.8,252)(255,204)(255.9,169)(256.7,198)(258,199)(259.6,204)(261.1,206)(263,207)(265,210)(265.7,157)(266.5,197)(267.7,313)(269.2,319)(270.3,331)(270.7,3)(271.9,43)(272.7,107)(273.4,156)(274.2,159)(275.7,156)(278.8,156)(280,166)(282.7,167)(285,172)(287.3,180)(289.6,182)(291.9,185)(293.8,196)(295.4,185)(296.9,159)(298.1,166)(300,167)};
\addplot[gf] coordinates {(0,163)(1.2,166)(2.3,165)(3.8,169)(5.4,169)(6.5,167)(8.1,164)(9.6,158)(11.2,152)(12.3,148)(13.5,146)(14.2,153)(15.4,153)(16.2,145)(16.9,154)(17.7,154)(18.8,145)(20,148)(21.2,149)(22.7,154)(23.8,156)(25.4,162)(26.9,164)(28.8,165)(31.2,166)(33.1,169)(35,172)(36.9,175)(38.8,180)(40.4,186)(41.9,194)(43.5,201)(44.6,209)(45.8,228)(46.9,244)(47.7,272)(48.5,312)(49.6,326)(51.2,329)(52.7,322)(53.8,321)(54.6,341)(55.8,342)(56.9,336)(57.9,323)(59.2,318)(60.8,315)(61.9,320)(63.1,324)(64.2,325)(65.4,325)(66.5,317)(67.7,334)(69.2,338)(70.4,346)(71.9,353)(73.5,357)(75.4,359)(75.7,1)(77.7,8)(78.5,16)(79.6,40)(80.8,63)(81.9,58)(83.1,63)(83.8,80)(84.2,104)(85,154)(86.5,159)(88.1,169)(89.6,179)(91.2,172)(92.7,164)(94.2,158)(96,157)(97.3,154)(98.8,153)(101.9,153)(102.7,149)(104.2,148)(105.8,146)(107.3,144)(108.8,143)(110.4,140)(111.5,133)(112.7,127)(114.2,132)(115.8,137)(117.3,145)(118.8,154)(120.4,157)(121.9,156)(123.8,154)(125.8,154)(127.3,148)(128.8,140)(130.4,133)(131.9,127)(133.5,124)(135,121)(136.5,117)(137.7,114)(138.8,121)(140.4,127)(141.9,135)(143.5,140)(144.6,141)(146.5,141)(148.1,137)(149.6,130)(151.2,129)(152.7,130)(154.2,133)(155.8,132)(157.3,132)(158.8,130)(160,127)(161.2,124)(162.3,123)(163.5,133)(165,143)(166.5,151)(168.1,158)(169.6,164)(171.2,169)(172.3,175)(173.5,183)(174.2,196)(175.4,206)(176.2,214)(177.3,214)(178.1,243)(178.8,272)(179.6,301)(180.8,325)(181.9,333)(183.1,339)(184.6,346)(186.5,352)(188.1,354)(189.6,355)(190.3,357)(190.5,1)(190.9,1)(191.1,357)(193,357)(193.2,1)(193.8,1)(194,358)(197.1,358)(197.5,1)(198.8,14)(200.4,19)(202.7,19)(204.6,16)(206.5,10)(207.7,11)(208.5,10)(209.3,30)(209.5,358)(211.3,358)(211.5,1)(213,2)(214.6,10)(216.5,16)(218.1,21)(219.6,24)(220.8,21)(221.6,24)(223.1,53)(225.4,59)(226.2,103)(227.7,154)(230.4,162)(232.7,175)(235,188)(236.5,213)(238,252)(240,288)(241.5,289)(243.4,296)(245.7,299)(247.3,296)(248.8,280)(249.6,290)(250.7,313)(251.9,252)(253,191)(254.2,178)(255.3,184)(256.9,197)(258.8,199)(260.7,204)(262.7,209)(264.2,215)(265.3,230)(266.9,284)(267.7,315)(268.8,312)(270,319)(271,342)(271.9,249)(272.8,166)(274.2,164)(275.7,153)(277.3,154)(279.2,151)(280.8,154)(282.3,156)(284.2,162)(286.2,169)(288.1,180)(290.4,182)(292.7,188)(294.2,201)(295.4,191)(296.2,190)(297.7,191)(298.8,182)(300,180)};
\addplot[only marks, mark=rgmstar] coordinates {(70.8,7)(192,7)(214.8,7)(240.5,7)(262.6,7)(288.7,7)};
\end{axis}

% ---------------- titles, legends and annotations (pixel grid of the reference)
\begin{scope}[x=0.5pt,y=-0.5pt]
\node[anchor=base, font=\titf, text=black!85, inner sep=0pt] at (755,40) {ts\_T2\_GB\_GB70\_GB71\_d03\_2011042600\_2011050812};
\node[anchor=base, font=\titf, text=black!85, inner sep=0pt] at (755,518) {ts\_WSPD10\_GB\_GB70\_GB71\_d03\_2011042600\_2011050812};
\node[anchor=base, font=\titf, text=black!85, inner sep=0pt] at (755,1000) {ts\_WDIR10\_GB\_GB70\_GB71\_d03\_2011042600\_2011050812};
\foreach \yy in {481,959,1440}{
  \node[anchor=base west, font=\legf, inner sep=0pt] at (125,\yy) {\textcolor{black}{\rule{3.6pt}{6.2pt}}\hspace{0.8pt}GB(OBS)};
  \node[anchor=base west, font=\legf, inner sep=0pt, text=pred] at (223,\yy) {\rule{3.6pt}{6.2pt}\hspace{0.8pt}wrf−NARR};
  \node[anchor=base west, font=\legf, inner sep=0pt, text=pblue] at (332,\yy) {\rule{3.6pt}{6.2pt}\hspace{0.8pt}wrf−GFS};
}
\node[anchor=base west, font=\bigf, inner sep=0pt] at (928,92) {2m temperature};
\node[anchor=base west, font=\bigf, inner sep=0pt] at (560,397) {precipitation (mm)};
\node[anchor=base west, font=\bigf, inner sep=0pt] at (130,840) {10 m Wind};
\node[anchor=base, font=\bigf, inner sep=0pt] at (222,884) {speed};
\node[anchor=base west, font=\bigf, inner sep=0pt] at (140,1312) {10 m Wind};
\node[anchor=base, font=\bigf, inner sep=0pt] at (227,1357) {direction};
\node[anchor=base, font=\grf, inner sep=0pt, text=agreen] at (957,560) {Frontal};
\node[anchor=base, font=\grf, inner sep=0pt, text=agreen] at (957,591) {passage};
\node[anchor=base west, font=\grf, inner sep=0pt, text=agreen] at (1077,1358) {High RGM days};
% arrows (shadow + body)
\draw[black!30, line width=6pt] (351,535) -- (351,595);
\draw[black!30, line width=6.5pt, line cap=round, line join=miter, miter limit=10] (325,557) -- (351,598) -- (377,557);
\draw[agreen, line width=6pt] (348,531) -- (348,592);
\draw[agreen, line width=6.5pt, line cap=round, line join=miter, miter limit=10] (322,553) -- (348,594) -- (374,553);
\draw[black!30, line width=6pt] (869,532) -- (869,592);
\draw[black!30, line width=6.5pt, line cap=round, line join=miter, miter limit=10] (843,554) -- (869,595) -- (895,554);
\draw[agreen, line width=6pt] (866,528) -- (866,589);
\draw[agreen, line width=6.5pt, line cap=round, line join=miter, miter limit=10] (840,550) -- (866,591) -- (892,550);
% underline bar
\fill[black!25] (1119,1424) rectangle (1199,1431);
\fill[agreen] (1116,1420) rectangle (1196,1427);
\end{scope}
\end{tikzpicture}
\end{document}
